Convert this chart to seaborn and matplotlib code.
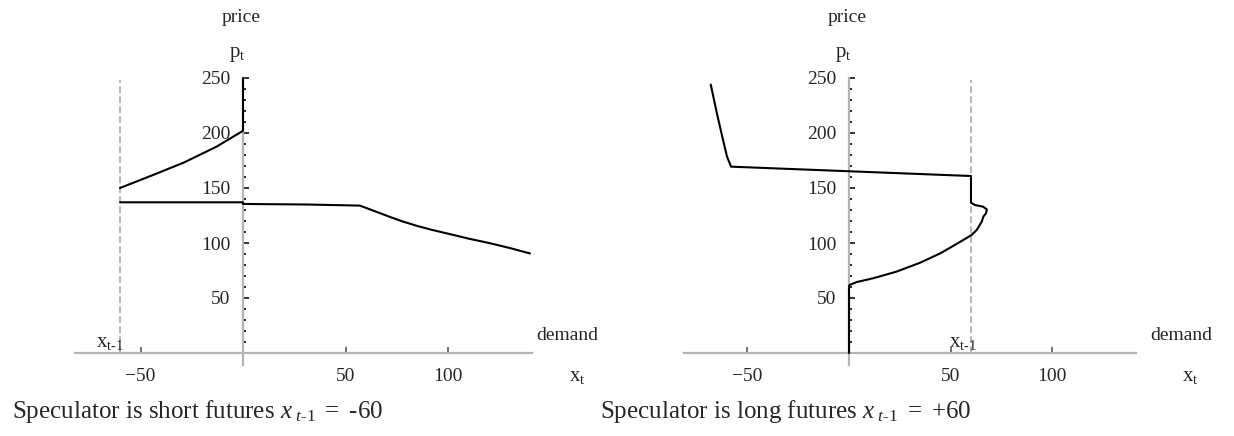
import numpy as np
import seaborn as sns
import matplotlib.pyplot as plt
from matplotlib.ticker import FixedLocator

# --- speculator short futures, x_{t-1} = -60 ---
short_prev = -60
short_upper_x = [-60, -45, -29, -13, 0, 0]
short_upper_p = [150, 161, 173, 187.5, 202, 250]
short_lower_x = [-60, 0, 0, 31, 57, 62, 67, 72, 78, 85, 92, 100, 110, 120, 130, 140]
short_lower_p = [137, 137, 135.5, 135, 134, 130.5, 127, 123.5, 119.5, 115.5, 112, 108.5, 104, 100, 95.5, 90.5]

# --- speculator long futures, x_{t-1} = +60 ---
long_prev = 60
long_x = [-68, -65, -62, -60, -58, 60, 60, 62, 66, 67.8, 67.4, 66.1, 65.3, 62.8, 60.3,
          56, 50, 44.8, 34.9, 23.4, 12, 3.8, 0.5, 0, 0]
long_p = [244, 218, 194, 178.5, 169.4, 160.9, 136.6, 134.5, 133, 130.6, 127, 124, 119.4, 111.8, 107.3,
          102.5, 96, 90.5, 82, 74, 68, 64.5, 62, 61, 0]

x_ticks = [-50, 50, 100]
y_ticks = [50, 100, 150, 200, 250]
y_minor = [v for v in range(10, 250, 10) if v % 50]
captions = [r'Speculator is short futures $\mathit{x}_{\ \mathit{t}\text{-}\mathit{1}}\ \mathit{=}\ \text{-}\mathit{60}$',
            r'Speculator is long futures $\mathit{x}_{\ \mathit{t}\text{-}\mathit{1}}\ \mathit{=}\ \mathit{+60}$']
prev_label = r'$\mathrm{x}_{\mathrm{t}\text{-}\mathrm{1}}$'

sns.set_style('white')
plt.rcParams['font.family'] = ['Liberation Serif', 'DejaVu Serif']
plt.rcParams['mathtext.fontset'] = 'custom'
plt.rcParams['mathtext.rm'] = 'Liberation Serif'
plt.rcParams['mathtext.it'] = 'Liberation Serif:italic'

W, H = 1234, 436
fig = plt.figure(figsize=(W / 100, H / 100), dpi=100)

AXIS_GREY = '#b4b4b4'
DASH_GREY = '#a8a8a8'


def make_axes(x0_px, px_x, xlim, spine_x):
    y0_px, px_y = 83, 1.1
    ylim = (-15, 310)
    ax = fig.add_axes([(x0_px + xlim[0] * px_x) / W, (y0_px + ylim[0] * px_y) / H,
                       (xlim[1] - xlim[0]) * px_x / W, (ylim[1] - ylim[0]) * px_y / H])
    ax.set_xlim(xlim)
    ax.set_ylim(ylim)
    ax.patch.set_alpha(0)
    for s in ['top', 'right']:
        ax.spines[s].set_visible(False)
    for s in ['left', 'bottom']:
        ax.spines[s].set_position(('data', 0))
        ax.spines[s].set_color(AXIS_GREY)
        ax.spines[s].set_linewidth(1.6)
    ax.spines['left'].set_bounds(-11, 250)
    ax.spines['bottom'].set_bounds(*spine_x)
    ax.set_xticks(x_ticks)
    ax.set_yticks(y_ticks)
    ax.yaxis.set_minor_locator(FixedLocator(y_minor))
    ax.tick_params(axis='y', which='major', direction='in', length=4, width=1.3,
                   color='#222222', labelsize=14, pad=9, left=True)
    ax.tick_params(axis='y', which='minor', direction='in', length=2.5, width=1.4,
                   color='#222222', left=True)
    ax.tick_params(axis='x', which='major', direction='in', length=4, width=1.2,
                   color='#555555', labelsize=14, pad=11, bottom=True)
    ax.set_xlabel('')
    ax.set_ylabel('')
    ax.text(-1, 305, 'price', ha='center', va='center', fontsize=14)
    ax.text(-3, 271, r'$\mathrm{p_t}$', ha='center', va='center', fontsize=15)
    return ax


# left panel
ax1 = make_axes(243, 2.05, (-90, 160), (-82, 141))
ax1.vlines(short_prev, 0, 248, colors=DASH_GREY, linestyles=(0, (4, 2)), lw=1.2)
sns.lineplot(x=short_upper_x, y=short_upper_p, ax=ax1, sort=False, estimator=None,
             color='black', lw=1.5, zorder=4)
sns.lineplot(x=short_lower_x, y=short_lower_p, ax=ax1, sort=False, estimator=None,
             color='black', lw=1.5, zorder=4)
ax1.text(short_prev - 5, 0.5, prev_label, ha='center', va='bottom', fontsize=15)
ax1.text(143, 16, 'demand', ha='left', va='center', fontsize=14)
ax1.text(163, -21, r'$\mathrm{x_t}$', ha='center', va='center', fontsize=15)

# right panel
ax2 = make_axes(849, 2.033, (-90, 170), (-81, 141))
ax2.vlines(long_prev, 0, 248, colors=DASH_GREY, linestyles=(0, (4, 2)), lw=1.2)
sns.lineplot(x=long_x, y=long_p, ax=ax2, sort=False, estimator=None, color='black', lw=1.5,
             zorder=4)
ax2.text(long_prev - 4, 0.5, prev_label, ha='center', va='bottom', fontsize=15)
ax2.text(148, 16, 'demand', ha='left', va='center', fontsize=14)
ax2.text(168, -21, r'$\mathrm{x_t}$', ha='center', va='center', fontsize=15)

fig.text(12 / W, 18 / H, captions[0], fontsize=18, ha='left', va='baseline')
fig.text(600 / W, 18 / H, captions[1], fontsize=18, ha='left', va='baseline')

fig.savefig('out.png', dpi=100)
